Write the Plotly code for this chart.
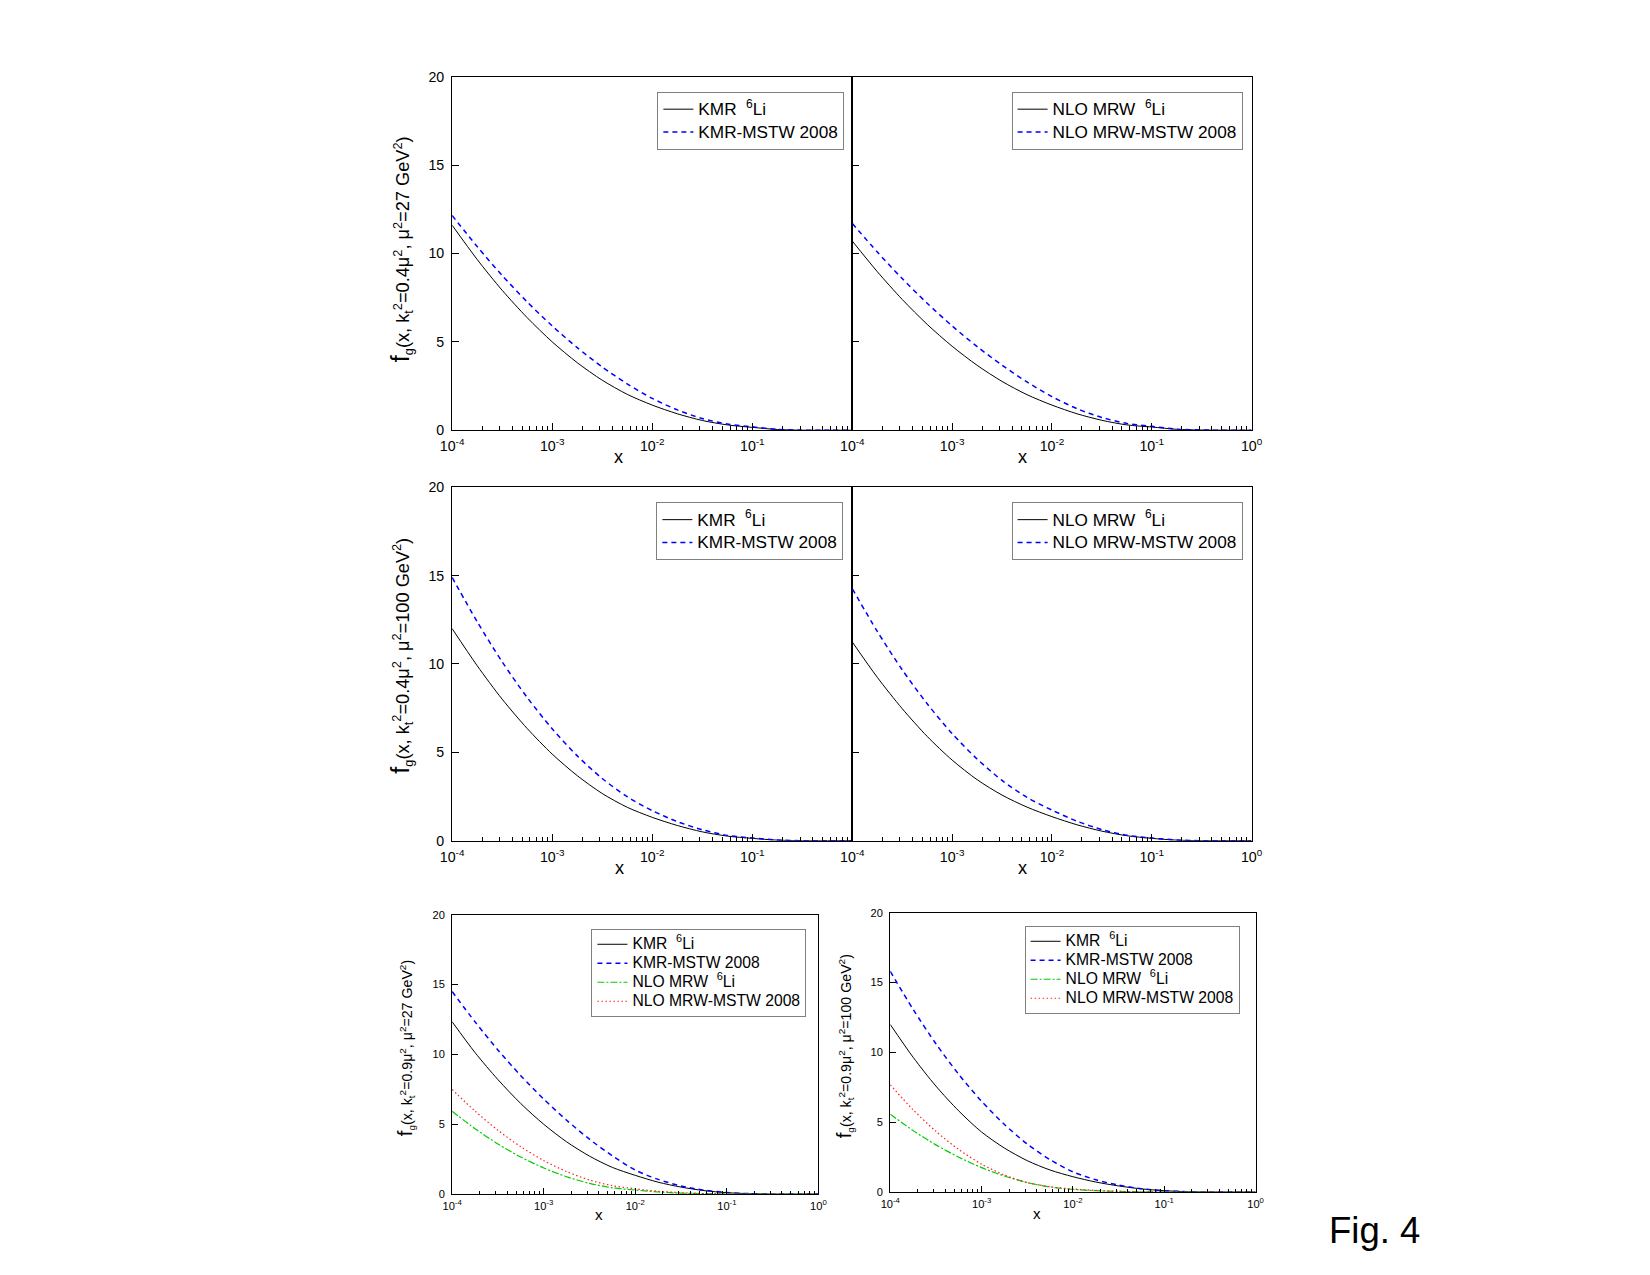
import plotly.graph_objects as go

# x grid (quarter decades from 1e-4 to 1)
x_vals = [1e-4, 1.78e-4, 3.16e-4, 5.62e-4, 1e-3, 1.78e-3, 3.16e-3, 5.62e-3,
          1e-2, 1.78e-2, 3.16e-2, 5.62e-2, 0.1, 0.178, 0.316, 0.562, 1.0]

# Row 1: kt^2 = 0.4 mu^2, mu^2 = 27 GeV^2
kmr_li_27 = [11.6, 9.66, 7.92, 6.37, 5.0, 3.82, 2.83, 2.03, 1.42, 0.93, 0.55, 0.3, 0.16, 0.04, 0.0, 0.0, 0.0]
kmr_mstw_27 = [12.15, 10.39, 8.76, 7.26, 5.9, 4.67, 3.58, 2.62, 1.8, 1.15, 0.66, 0.35, 0.19, 0.05, 0.0, 0.0, 0.0]
nlo_li_27 = [10.7, 8.97, 7.4, 5.99, 4.75, 3.67, 2.76, 2.01, 1.42, 0.93, 0.56, 0.3, 0.18, 0.05, 0.01, 0.0, 0.0]
nlo_mstw_27 = [11.7, 10.08, 8.58, 7.18, 5.9, 4.73, 3.68, 2.73, 1.9, 1.22, 0.72, 0.38, 0.22, 0.06, 0.01, 0.0, 0.0]

# Row 2: kt^2 = 0.4 mu^2, mu^2 = 100 GeV^2
kmr_li_100 = [12.0, 9.9, 8.01, 6.35, 4.9, 3.68, 2.67, 1.89, 1.32, 0.86, 0.5, 0.26, 0.13, 0.03, 0.0, 0.0, 0.0]
kmr_mstw_100 = [14.9, 12.39, 10.12, 8.11, 6.33, 4.8, 3.52, 2.49, 1.7, 1.08, 0.62, 0.3, 0.15, 0.04, 0.0, 0.0, 0.0]
nlo_li_100 = [11.24, 9.24, 7.47, 5.9, 4.56, 3.45, 2.58, 1.9, 1.36, 0.9, 0.54, 0.28, 0.13, 0.03, 0.0, 0.0, 0.0]
nlo_mstw_100 = [14.25, 11.84, 9.67, 7.75, 6.06, 4.62, 3.41, 2.45, 1.73, 1.1, 0.63, 0.31, 0.15, 0.04, 0.0, 0.0, 0.0]

# Row 3 left: kt^2 = 0.9 mu^2, mu^2 = 27 GeV^2
b27_kmr_li = [12.34, 10.13, 8.2, 6.48, 5.0, 3.74, 2.72, 1.91, 1.34, 0.85, 0.5, 0.25, 0.1, 0.03, 0.0, 0.0, 0.0]
b27_kmr_mstw = [14.5, 12.33, 10.32, 8.48, 6.8, 5.29, 3.93, 2.74, 1.72, 1.05, 0.58, 0.28, 0.12, 0.03, 0.0, 0.0, 0.0]
b27_nlo_li = [5.93, 4.68, 3.59, 2.65, 1.87, 1.24, 0.77, 0.45, 0.29, 0.15, 0.07, 0.03, 0.01, 0.0, 0.0, 0.0, 0.0]
b27_nlo_mstw = [7.49, 5.94, 4.57, 3.39, 2.4, 1.61, 1.01, 0.6, 0.38, 0.2, 0.1, 0.04, 0.01, 0.0, 0.0, 0.0, 0.0]

# Row 3 right: kt^2 = 0.9 mu^2, mu^2 = 100 GeV^2
b100_kmr_li = [12.0, 9.65, 7.59, 5.81, 4.3, 3.15, 2.25, 1.58, 1.1, 0.72, 0.44, 0.23, 0.1, 0.03, 0.0, 0.0, 0.0]
b100_kmr_mstw = [15.8, 13.08, 10.62, 8.43, 6.5, 4.84, 3.44, 2.32, 1.45, 0.88, 0.5, 0.24, 0.1, 0.03, 0.0, 0.0, 0.0]
b100_nlo_li = [5.57, 4.4, 3.38, 2.5, 1.75, 1.15, 0.68, 0.37, 0.19, 0.1, 0.05, 0.02, 0.01, 0.0, 0.0, 0.0, 0.0]
b100_nlo_mstw = [7.68, 5.89, 4.35, 3.05, 2.0, 1.22, 0.68, 0.38, 0.22, 0.12, 0.05, 0.02, 0.01, 0.0, 0.0, 0.0, 0.0]

major_ticks = [1e-4, 1e-3, 1e-2, 1e-1, 1.0]
major_text = ["10<sup>-4</sup>", "10<sup>-3</sup>", "10<sup>-2</sup>", "10<sup>-1</sup>", "10<sup>0</sup>"]
minor_ticks = [m * 10.0 ** e for e in range(-4, 0) for m in range(2, 10)]
y_ticks = [0, 5, 10, 15, 20]

W, H = 1650, 1275
# the photographed page comes out slightly scaled and offset; compensate positions
AX, BX = 0.988, 10.0
AY, BY = 0.9863, 8.3
S = 1 / 0.987
FONT = "Liberation Sans, Arial, sans-serif"

def fx(p):
    return ((p - BX) / AX) / W

def fy(p):
    return 1 - ((p - BY) / AY) / H

def fs_(v):
    return round(v * S, 1)

panels = [
    # (xdomain px, ydomain px, show y labels, show 10^0 label, small)
    ((451, 852), (77, 430), True, False, False),
    ((852, 1252), (77, 430), False, True, False),
    ((451, 852), (487, 840), True, False, False),
    ((852, 1252), (487, 840), False, True, False),
    ((451, 818), (914, 1193), True, True, True),
    ((890, 1256), (912, 1191), True, True, True),
]

fig = go.Figure()

BLACK = dict(color="black", width=1)
BLUE = dict(color="#0000ff", width=1.5, dash="5px,4px")
GREEN = dict(color="#00cc00", width=1.2, dash="7px,2px,2px,2px")
RED = dict(color="#ff2020", width=1.2, dash="1.5px,2.5px")

series = [
    (1, "KMR&nbsp;&nbsp;<sup>6</sup>Li", kmr_li_27, BLACK),
    (1, "KMR-MSTW 2008", kmr_mstw_27, BLUE),
    (2, "NLO MRW&nbsp;&nbsp;<sup>6</sup>Li", nlo_li_27, BLACK),
    (2, "NLO MRW-MSTW 2008", nlo_mstw_27, BLUE),
    (3, "KMR&nbsp;&nbsp;<sup>6</sup>Li", kmr_li_100, BLACK),
    (3, "KMR-MSTW 2008", kmr_mstw_100, BLUE),
    (4, "NLO MRW&nbsp;&nbsp;<sup>6</sup>Li", nlo_li_100, BLACK),
    (4, "NLO MRW-MSTW 2008", nlo_mstw_100, BLUE),
    (5, "KMR&nbsp;&nbsp;<sup>6</sup>Li", b27_kmr_li, BLACK),
    (5, "KMR-MSTW 2008", b27_kmr_mstw, BLUE),
    (5, "NLO MRW&nbsp;&nbsp;<sup>6</sup>Li", b27_nlo_li, GREEN),
    (5, "NLO MRW-MSTW 2008", b27_nlo_mstw, RED),
    (6, "KMR&nbsp;&nbsp;<sup>6</sup>Li", b100_kmr_li, BLACK),
    (6, "KMR-MSTW 2008", b100_kmr_mstw, BLUE),
    (6, "NLO MRW&nbsp;&nbsp;<sup>6</sup>Li", b100_nlo_li, GREEN),
    (6, "NLO MRW-MSTW 2008", b100_nlo_mstw, RED),
]

for idx, name, vals, line in series:
    sfx = "" if idx == 1 else str(idx)
    tsize = fs_(15.5 if idx >= 5 else 17)
    fig.add_trace(go.Scatter(
        x=x_vals, y=vals, mode="lines",
        name="<span style='font-size:%spx'>%s</span>" % (tsize, name),
        line=dict(shape="spline", smoothing=0.8, **line),
        xaxis="x" + sfx, yaxis="y" + sfx,
        legend="legend" + sfx,
    ))

layout = dict(
    width=W, height=H, autosize=False,
    margin=dict(l=0, r=0, t=0, b=0),
    paper_bgcolor="white", plot_bgcolor="white",
    font=dict(family=FONT, color="black"),
)

for i, (xd, yd, showy, show0, small) in enumerate(panels, start=1):
    sfx = "" if i == 1 else str(i)
    tfs = fs_(11 if small else 14)
    ttext = list(major_text)
    if not show0:
        ttext[-1] = ""
    layout["xaxis" + sfx] = dict(
        domain=[fx(xd[0]), fx(xd[1])], type="log", range=[-4, 0],
        tickmode="array", tickvals=major_ticks, ticktext=ttext,
        ticks="inside", ticklen=6 if small else 7, tickwidth=1, tickcolor="black",
        ticklabelstandoff=1 if small else 3,
        showline=True, linecolor="black", linewidth=1.2, mirror=True,
        showgrid=False, zeroline=False,
        tickfont=dict(size=tfs, family=FONT, color="black"),
        minor=dict(tickmode="array", tickvals=minor_ticks, ticks="inside",
                   ticklen=3 if small else 4, tickwidth=1, tickcolor="black", showgrid=False),
        anchor="y" + sfx, fixedrange=True,
    )
    layout["yaxis" + sfx] = dict(
        domain=[fy(yd[1]), fy(yd[0])], range=[0, 20],
        tickmode="array", tickvals=y_ticks,
        ticks="inside", ticklen=6 if small else 7, tickwidth=1, tickcolor="black",
        showticklabels=showy, ticklabelstandoff=4,
        showline=True, linecolor="black", linewidth=1.2, mirror=True,
        showgrid=False, zeroline=False,
        tickfont=dict(size=tfs, family=FONT, color="black"),
        anchor="x" + sfx, fixedrange=True,
    )

# legends: (right px, top px, legend font size controlling row spacing)
legend_pos = [(801, 88, 15), (1240, 88, 15), (843, 498, 15), (1241, 498, 15), (806, 928, 12), (1240, 925, 12)]
legend_pos = [(844, 92, 15), (1243, 92, 15), (843, 502, 15), (1243, 502, 15), (806, 928, 12), (1240, 925, 12)]
for i, (r, t, f) in enumerate(legend_pos, start=1):
    key = "legend" if i == 1 else "legend" + str(i)
    layout[key] = dict(
        x=fx(r), y=fy(t), xanchor="right", yanchor="top",
        xref="paper", yref="paper",
        bgcolor="white", bordercolor="#808080", borderwidth=1,
        font=dict(size=fs_(f), family=FONT, color="black"),
        tracegroupgap=0, itemwidth=30,
    )

fig.update_layout(**layout)

# y-axis titles
ytitles = [
    (400, 249, "0.4", "27", 18, 25),
    (400, 655, "0.4", "100", 18, 25),
    (405, 1047, "0.9", "27", 14, 20),
    (845, 1045, "0.9", "100", 14, 20),
]
for xp, yp, k, mu, f, ff in ytitles:
    txt = ("<span style='font-size:%spx'>f</span><sub>g</sub>(x, k<sub>t</sub><sup>2</sup>=%sμ<sup>2</sup>, "
           "μ<sup>2</sup>=%s GeV<sup>2</sup>)") % (fs_(ff), k, mu)
    fig.add_annotation(x=fx(xp), y=fy(yp), xref="paper", yref="paper",
                       text=txt, textangle=-90, showarrow=False,
                       xanchor="center", yanchor="middle",
                       font=dict(size=fs_(f), family=FONT, color="black"))

# x-axis titles
xtitles = [(618, 457, 18), (1022, 457, 18), (619, 867, 18), (1022, 867, 18), (598, 1213, 15), (1037, 1212, 15)]
for xp, yp, f in xtitles:
    fig.add_annotation(x=fx(xp), y=fy(yp), xref="paper", yref="paper",
                       text="x", showarrow=False, xanchor="center", yanchor="middle",
                       font=dict(size=fs_(f), family=FONT, color="black"))

fig.add_annotation(x=fx(1375), y=fy(1229), xref="paper", yref="paper",
                   text="Fig. 4", showarrow=False, xanchor="center", yanchor="middle",
                   font=dict(size=fs_(36), family=FONT, color="black"))

fig.write_html("out.html")
